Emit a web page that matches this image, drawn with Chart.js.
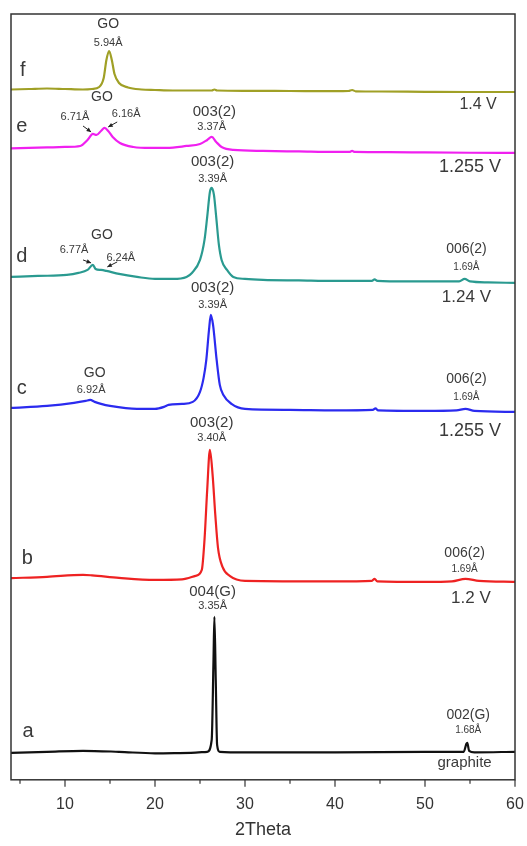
<!DOCTYPE html>
<html>
<head>
<meta charset="utf-8">
<script src="https://cdn.jsdelivr.net/npm/chart.js"></script>
<style>
  html, body { margin: 0; padding: 0; background: #fff; overflow: hidden; }
  #wrap { width: 527px; height: 846px; }
  canvas { display: block; }
</style>
</head>
<body>
<div id="wrap"><canvas id="xrd"></canvas></div>
<script>
// 2theta vs offset intensity (a.u.)
var traceF = [[4,690.5],[6,691],[8,691.5],[10,691],[12,690.5],[13,691],[13.8,693],[14.3,702],[14.6,720],[14.9,729],[15.2,720],[15.5,706],[16,697],[17,692.5],[18.5,690.5],[20,690],[22,689.5],[25,689.5],[26.3,689.5],[26.6,690.5],[26.9,689.5],[30,689.2],[35,689],[40,688.8],[41.5,689],[41.9,690],[42.3,688.7],[45,688.5],[50,688.2],[55,688],[60,688]];
var traceE = [[4,631.5],[6,632],[8,632.5],[10,633],[11.7,634],[12.5,640],[13.1,646],[13.5,645],[14.0,649],[14.4,652],[14.8,649],[15.3,643],[16.1,637],[17.6,633],[19.5,632],[21.3,632],[23.5,634],[25,636],[25.8,640],[26.3,643],[26.8,638],[27.4,633],[28.7,630],[32,629],[36,628.5],[40,628],[41.6,628],[41.9,629],[42.2,628],[46,627.8],[50,627.5],[55,627.2],[60,627]];
var traceD = [[4,503],[7,504],[10.2,505],[11.5,507],[12.5,510],[13.1,515],[13.4,511],[14.0,510],[14.6,509],[16,506],[18,503],[20,501],[22,501],[23.5,503],[24.1,507],[25.0,520],[25.5,540],[25.8,563],[26.1,588],[26.3,592],[26.55,585],[26.8,563],[27.1,535],[27.4,520],[28,510],[28.7,503],[30,501],[32,500],[36,499.5],[40,499],[44.1,499],[44.4,500.5],[44.7,499],[48,498.5],[52,498.5],[53.8,498.5],[54.4,501],[55,498.5],[57,497.5],[60,497]];
var traceC = [[4,372],[8,374],[11,377],[12.3,379],[12.8,380],[13.3,378],[14,376],[15,374],[18,371],[20,371],[21,373],[21.5,375],[23,376],[24.2,378],[25.0,388],[25.4,402],[25.7,420],[26.0,450],[26.2,465],[26.45,455],[26.85,420],[27.2,395],[27.6,385],[28.5,376],[30,371],[35,370],[40,369.5],[44.2,370],[44.5,371.5],[44.8,369.5],[50,369],[53.5,369.5],[54.5,371],[55.5,369],[60,368]];
var traceB = [[4,201.7],[8,203],[12,205],[13,204.5],[16,202],[20,200],[23,200.5],[24.5,204],[25.2,210],[25.5,240],[25.8,290],[26.1,330],[26.4,305],[26.7,265],[27.0,232],[27.5,213],[28.3,204],[30,199],[40,198.5],[44.1,199],[44.4,201],[44.7,198.5],[50,198],[53,198.5],[54.5,201],[56,199],[60,198]];
var traceA = [[4,27],[8,28],[12,29],[16,28],[20,26.5],[24,27],[25.8,28],[26.3,40],[26.5,120],[26.6,163],[26.75,100],[26.9,35],[27.2,28],[30,27.5],[40,27.5],[50,28],[54.3,28],[54.6,36],[54.7,37],[54.9,29],[55.5,27.5],[60,28]];

var traceNames = ['f', 'e', 'd', 'c', 'b', 'a'];
var traceColors = ['#a0a026', '#f020f0', '#2a9a90', '#2b2bef', '#ee2222', '#111111'];
var traces = [traceF, traceE, traceD, traceC, traceB, traceA];
var xTicks = [10, 20, 30, 40, 50, 60];
var xMinor = [5, 15, 25, 35, 45, 55];

// text labels: [text, 2theta, intensity, font size]
var labels = [
  ['f', 5.3, 710, 20], ['GO', 14.8, 756, 14], ['5.94Å', 14.8, 737, 11], ['1.4 V', 55.9, 675, 16],
  ['e', 5.2, 653, 20], ['GO', 14.1, 683, 14], ['6.71Å', 11.1, 663, 11], ['6.16Å', 16.8, 666, 11],
  ['003(2)', 26.6, 668, 15], ['3.37Å', 26.3, 653, 11], ['1.255 V', 55, 613, 18],
  ['003(2)', 26.4, 618, 15], ['3.39Å', 26.4, 601, 11],
  ['d', 5.2, 523, 20], ['GO', 14.1, 545, 14], ['6.77Å', 11, 530, 11], ['6.24Å', 16.2, 522, 11],
  ['006(2)', 54.6, 531, 14], ['1.69Å', 54.6, 513, 10], ['1.24 V', 54.6, 483, 17],
  ['003(2)', 26.4, 492, 15], ['3.39Å', 26.4, 475, 11],
  ['c', 5.2, 391, 20], ['GO', 13.3, 407, 14], ['6.92Å', 12.9, 390, 11],
  ['006(2)', 54.6, 401, 14], ['1.69Å', 54.6, 383, 10], ['1.255 V', 55, 349, 18],
  ['003(2)', 26.3, 357, 15], ['3.40Å', 26.3, 342, 11],
  ['b', 5.8, 221, 20], ['006(2)', 54.4, 227, 14], ['1.69Å', 54.4, 211, 10], ['1.2 V', 55.1, 182, 17],
  ['004(G)', 26.4, 188, 15], ['3.35Å', 26.4, 174, 11],
  ['a', 5.9, 48, 20], ['002(G)', 54.8, 65, 14], ['1.68Å', 54.8, 50, 10], ['graphite', 54.4, 17, 15]
];
// arrows: [x1, y1, x2, y2] in 2theta / intensity
var arrows = [
  [12.0, 654, 12.9, 648], [15.8, 658, 14.8, 653],
  [12.0, 520, 12.9, 517], [15.8, 518, 14.7, 513]
];

var datasets = traces.map(function (t, i) {
  return {
    label: traceNames[i],
    data: t.map(function (p) { return { x: p[0], y: p[1] }; }),
    borderColor: traceColors[i],
    borderWidth: 2.2,
    pointRadius: 0,
    cubicInterpolationMode: 'monotone',
    fill: false
  };
});

var decor = {
  id: 'decor',
  afterDraw: function (chart) {
    var c = chart.ctx, a = chart.chartArea;
    var xs = chart.scales.x, ys = chart.scales.y;
    c.save();
    c.strokeStyle = '#333';
    c.lineWidth = 1.5;
    c.strokeRect(a.left, a.top, a.right - a.left, a.bottom - a.top);
    // tick marks: long at labelled values, short in between
    c.lineWidth = 1.2;
    xTicks.forEach(function (v) {
      var px = xs.getPixelForValue(v);
      c.beginPath(); c.moveTo(px, a.bottom); c.lineTo(px, a.bottom + 7); c.stroke();
    });
    xMinor.forEach(function (v) {
      var px = xs.getPixelForValue(v);
      c.beginPath(); c.moveTo(px, a.bottom); c.lineTo(px, a.bottom + 4); c.stroke();
    });
    c.fillStyle = '#3a3a3a';
    c.textAlign = 'center';
    c.textBaseline = 'middle';
    labels.forEach(function (l) {
      c.font = l[3] + 'px "Liberation Sans", Arial, sans-serif';
      c.fillText(l[0], xs.getPixelForValue(l[1]), ys.getPixelForValue(l[2]));
    });
    c.strokeStyle = '#222';
    c.fillStyle = '#222';
    c.lineWidth = 1;
    arrows.forEach(function (r) {
      var x1 = xs.getPixelForValue(r[0]), y1 = ys.getPixelForValue(r[1]);
      var x2 = xs.getPixelForValue(r[2]), y2 = ys.getPixelForValue(r[3]);
      var ang = Math.atan2(y2 - y1, x2 - x1);
      c.beginPath(); c.moveTo(x1, y1); c.lineTo(x2, y2); c.stroke();
      c.beginPath();
      c.moveTo(x2, y2);
      c.lineTo(x2 - 5 * Math.cos(ang - 0.45), y2 - 5 * Math.sin(ang - 0.45));
      c.lineTo(x2 - 5 * Math.cos(ang + 0.45), y2 - 5 * Math.sin(ang + 0.45));
      c.closePath(); c.fill();
    });
    c.restore();
  }
};

new Chart(document.getElementById('xrd'), {
  type: 'line',
  data: { datasets: datasets },
  options: {
    responsive: true,
    maintainAspectRatio: false,
    animation: false,
    layout: { autoPadding: false, padding: { left: 11, right: 12, top: 14, bottom: 1 } },
    plugins: { legend: { display: false }, tooltip: { enabled: false } },
    scales: {
      x: {
        type: 'linear',
        min: 4,
        max: 60,
        afterBuildTicks: function (s) { s.ticks = xTicks.map(function (v) { return { value: v }; }); },
        afterFit: function (s) { s.paddingLeft = 0; s.paddingRight = 0; },
        ticks: {
          color: '#333',
          padding: 3,
          font: { size: 16, family: '"Liberation Sans", Arial, sans-serif' }
        },
        grid: { drawOnChartArea: false, tickLength: 12, color: 'rgba(0,0,0,0)' },
        border: { display: false },
        title: {
          display: true,
          text: '2Theta',
          color: '#333',
          padding: { top: 4, bottom: 6 },
          font: { size: 18, lineHeight: 1, family: '"Liberation Sans", Arial, sans-serif' }
        }
      },
      y: { display: false, min: 0, max: 766 }
    }
  },
  plugins: [decor]
});
</script>
</body>
</html>
